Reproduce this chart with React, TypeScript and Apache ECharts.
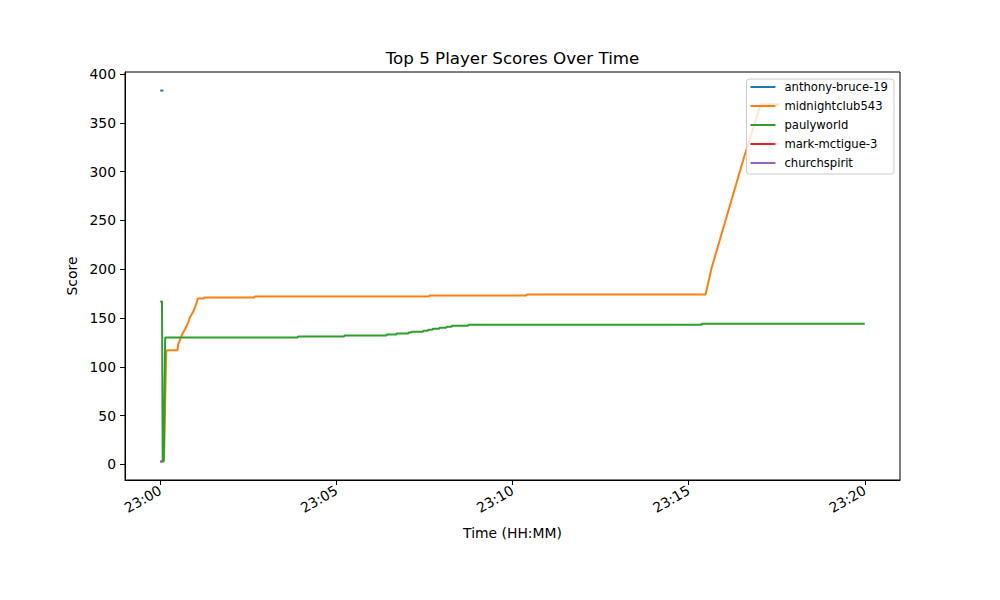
import React, { useEffect, useRef } from "react";
import * as echarts from "echarts";

// Time in minutes after 23:00, scores
const seriesNames = ["anthony-bruce-19", "midnightclub543", "paulyworld", "mark-mctigue-3", "churchspirit"];
const seriesColors = ["#1f77b4", "#ff7f0e", "#2ca02c", "#d62728", "#9467bd"];

const anthonyTime = [0.0, 0.09];
const anthonyScore = [383, 383];

const midnightTime = [0.08, 0.11, 0.17, 0.22, 0.49, 0.51, 0.62, 0.71, 0.79, 0.85, 0.93, 1.01, 1.07, 1.24, 1.25, 2.67, 2.68, 7.63, 7.64, 10.39, 10.4, 15.48, 15.65, 16.6, 17.0, 17.05, 17.6];
const midnightScore = [4, 7, 116, 117, 117, 123, 133, 139, 145, 151, 156, 163, 170, 170, 171, 171, 172, 172, 173, 173, 174, 174, 201, 318, 364, 369, 369];

const paulyTime = [0.0, 0.05, 0.07, 0.1, 0.14, 3.9, 3.91, 5.22, 5.23, 6.42, 6.43, 6.7, 6.71, 7.04, 7.05, 7.13, 7.14, 7.46, 7.47, 7.6, 7.61, 7.73, 7.74, 7.92, 7.93, 8.12, 8.13, 8.27, 8.28, 8.74, 8.75, 15.36, 15.37, 20.0];
const paulyScore = [167, 167, 3, 3, 130, 130, 131, 131, 132, 132, 133, 133, 134, 134, 135, 135, 136, 136, 137, 137, 138, 138, 139, 139, 140, 140, 141, 141, 142, 142, 143, 143, 144, 144];

const markTime = [0.0, 0.07];
const markScore = [3, 3];

const churchTime = [0.0, 0.07];
const churchScore = [3, 3];

const xTicks = [0, 5, 10, 15, 20];
const yTicks = [0, 50, 100, 150, 200, 250, 300, 350, 400];

const allTimes = [anthonyTime, midnightTime, paulyTime, markTime, churchTime];
const allScores = [anthonyScore, midnightScore, paulyScore, markScore, churchScore];

const FONT = "DejaVu Sans";

export default function App() {
  const ref = useRef<HTMLDivElement>(null);
  useEffect(() => {
    if (!ref.current) return;
    const chart = echarts.init(ref.current, undefined, { renderer: "svg" });
    const series = seriesNames.map((name, i) => ({
      name,
      type: "line",
      symbol: "none",
      showSymbol: false,
      color: seriesColors[i],
      lineStyle: { width: 2, color: seriesColors[i] },
      data: allTimes[i].map((t, j) => [t, allScores[i][j]]),
    }));
    chart.setOption({
      animation: false,
      textStyle: { fontFamily: FONT },
      grid: {
        left: 125,
        right: 100,
        top: 72,
        bottom: 120,
        show: true,
        borderColor: "#000",
        borderWidth: 1,
        backgroundColor: "transparent",
      },
      graphic: [
        {
          type: "text",
          x: 512.5,
          y: 58,
          style: {
            text: "Top 5 Player Scores Over Time",
            fontFamily: FONT,
            fontSize: 16.7,
            fill: "#000",
            textAlign: "center",
            textVerticalAlign: "middle",
          },
        },
      ],
      legend: {
        orient: "vertical",
        right: 106,
        top: 79,
        icon: "rect",
        itemWidth: 25,
        itemHeight: 2,
        itemGap: 7,
        padding: [2, 6, 5, 4],
        backgroundColor: "rgba(255,255,255,0.8)",
        borderColor: "#cccccc",
        borderWidth: 1,
        borderRadius: 3,
        z: 10,
        textStyle: { fontFamily: FONT, fontSize: 11.6, color: "#000", lineHeight: 12, padding: [0, 0, 0, 4] },
        data: seriesNames,
      },
      xAxis: {
        type: "value",
        min: -1,
        max: 21,
        name: "Time (HH:MM)",
        nameLocation: "middle",
        nameGap: 46,
        nameTextStyle: { fontFamily: FONT, fontSize: 13.9, color: "#000" },
        axisLine: { show: true, onZero: false, lineStyle: { color: "#000", width: 1 } },
        axisTick: { show: true, length: 5, customValues: xTicks, lineStyle: { color: "#000" } },
        axisLabel: {
          customValues: xTicks,
          rotate: 30,
          margin: 9,
          fontFamily: FONT,
          fontSize: 13.9,
          color: "#000",
          formatter: (v: number) => "23:" + String(Math.round(v)).padStart(2, "0"),
        },
        splitLine: { show: false },
      },
      yAxis: {
        type: "value",
        min: -16,
        max: 402,
        name: "Score",
        nameLocation: "middle",
        nameGap: 43,
        nameTextStyle: { fontFamily: FONT, fontSize: 13.9, color: "#000" },
        axisLine: { show: true, onZero: false, lineStyle: { color: "#000", width: 1 } },
        axisTick: { show: true, length: 5, customValues: yTicks, lineStyle: { color: "#000" } },
        axisLabel: {
          customValues: yTicks,
          margin: 9,
          fontFamily: FONT,
          fontSize: 13.9,
          color: "#000",
        },
        splitLine: { show: false },
      },
      series,
    });
    return () => chart.dispose();
  }, []);
  return (
    <div
      ref={ref}
      style={{ position: "fixed", left: 0, top: 0, width: 1000, height: 600, background: "#fff" }}
    />
  );
}
